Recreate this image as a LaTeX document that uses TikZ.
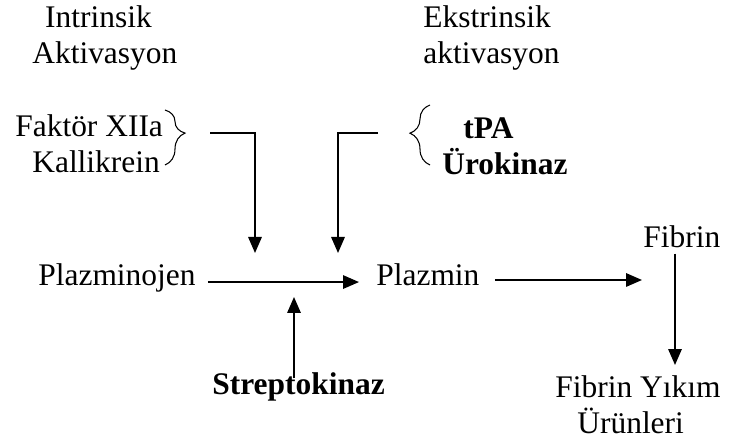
\documentclass[tikz,border=0pt]{standalone}
\usepackage{fontspec}
\setmainfont{Liberation Serif}
\usepackage{tikz}
\usetikzlibrary{arrows.meta, positioning, calc, decorations.pathreplacing}

\begin{document}
\begin{tikzpicture}[
  x=0.02cm,
  y=-0.02cm,
  txt/.style={
    inner sep=0pt,
    anchor=base west,
    align=left,
    font=\fontsize{17.9}{20.5}\selectfont
  },
  rowtxt/.style={
    txt,
    text height=0.7em,
    text depth=0.25em
  },
  arrow/.style={
    -{Triangle[length=0.32cm, width=0.27cm]},
    line width=0.9pt
  },
  bracket/.style={
    decorate,
    line width=0.6pt,
    decoration={brace, amplitude=0.4cm}
  }
]
\useasboundingbox (0,0) rectangle (730,445);

% Headings (base = last line)
\node[txt] (intr) at (32,64) {\hspace{0.41em}Intrinsik\\Aktivasyon};
\node[txt] (ekstr) at (423,64) {Ekstrinsik\\aktivasyon};

% Activators
\node[txt] (fxii) at (15,173) {Faktör XIIa\\\hspace{0.54em}Kallikrein};
\node[txt, font=\fontsize{17.9}{20.5}\selectfont\bfseries] (tpa) at (442,175) {\hspace{0.67em}tPA\\Ürokinaz};
\node[rowtxt, font=\fontsize{17.9}{20.5}\selectfont\bfseries] (strep) at (212,395) {Streptokinaz};

% Main row
\node[rowtxt] (plg) at (38,286) {Plazminojen};
\node[rowtxt] (plm) at (376,286) {Plazmin};
\node[txt] (fib) at (643,248) {Fibrin};
\node[txt] (fyu) at (555,434) {Fibrin Yıkım\\\hspace{0.7em}Ürünleri};

% Braces
\coordinate (fxtop) at (165,110);
\coordinate (fxbot) at (165,165);
\draw[bracket, decoration={aspect=0.42}] (fxtop) -- (fxbot);
\coordinate (tptop) at (430,105);
\coordinate (tpbot) at (430,165);
\draw[bracket, decoration={aspect=0.53}] (tpbot) -- (tptop);

% Arrows into the conversion
\coordinate (inbeg) at (210,133);
\coordinate (inend) at (255,253);
\draw[arrow] (inbeg) -| (inend);
\coordinate (exbeg) at (378,133);
\coordinate (exend) at (338,253);
\draw[arrow] (exbeg) -| (exend);
\coordinate (skend) at (294,297);
\draw[arrow, shorten <=0.08cm] (strep.north -| skend) -- (skend);

% Main arrows
\draw[arrow, shorten <=0.24cm, shorten >=0.34cm] (plg.east) -- (plm.west);
\coordinate (fbin) at (642,280);
\draw[arrow, shorten <=0.3cm] (plm.east |- fbin) -- (fbin);
\coordinate (fyin) at (675,365);
\draw[arrow, shorten <=0.1cm] (fib.south -| fyin) -- (fyin);

\end{tikzpicture}
\end{document}
